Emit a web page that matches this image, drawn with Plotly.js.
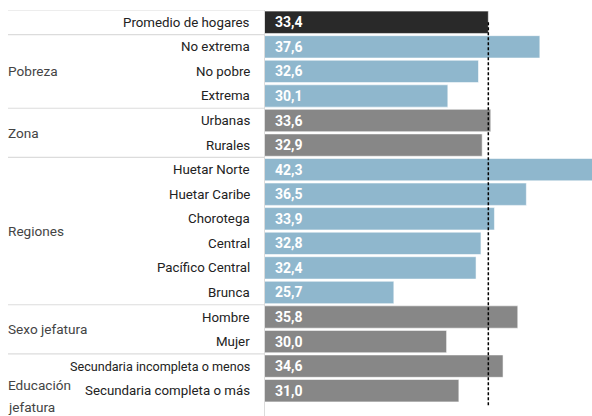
<!DOCTYPE html>
<html>
<head>
<meta charset="utf-8">
<script src="https://cdn.plot.ly/plotly-3.0.1.min.js"></script>
<style>html,body{margin:0;padding:0;background:#fff;}#chart{width:592px;height:416px;}</style>
</head>
<body>
<div id="chart"></div>
<script>
const categories = ['Promedio de hogares','No extrema','No pobre','Extrema','Urbanas','Rurales','Huetar Norte','Huetar Caribe','Chorotega','Central','Pacífico Central','Brunca','Hombre','Mujer','Secundaria incompleta o menos','Secundaria completa o más'];
const values = [33.4,37.6,32.6,30.1,33.6,32.9,42.3,36.5,33.9,32.8,32.4,25.7,35.8,30.0,34.6,31.0];
const groups = ['Promedio','Pobreza','Pobreza','Pobreza','Zona','Zona','Regiones','Regiones','Regiones','Regiones','Regiones','Regiones','Sexo jefatura','Sexo jefatura','Educación jefatura','Educación jefatura'];
const groupLabels = ['Pobreza','Zona','Regiones','Sexo jefatura','Educación jefatura'];
const average = 33.4;

const groupColor = {'Promedio':'#292929','Pobreza':'#8fb7cd','Regiones':'#8fb7cd','Zona':'#878787','Sexo jefatura':'#878787','Educación jefatura':'#878787'};
const xMin = 15.2, xMax = 41.85;
const idx = categories.map((c,i)=>i);
const fmt = v => v.toFixed(1).replace('.', ',');

const W = 592, L = 265;
const paperX = px => (px - L) / (W - L);

const trace = {
  type:'bar', orientation:'h',
  y: idx, x: values,
  marker:{color: groups.map(g=>groupColor[g]), line:{color:'rgba(255,255,255,0.55)', width:1}},
  hoverinfo:'none'
};

const annotations = [];
categories.forEach((c,i)=>{
  const small = c.length > 25;
  annotations.push({xref:'paper', yref:'y', x:paperX(252), y:i, xanchor:'right', yanchor:'middle',
    text:c, showarrow:false, font:{family:'Roboto', size: small ? 12.6 : 13.3, color:'#222'}});
  annotations.push({xref:'x', yref:'y', x:xMin, xshift:8, y:i, xanchor:'left', yanchor:'middle',
    text:'<b>'+fmt(values[i])+'</b>', showarrow:false, font:{family:'Roboto', size:14, color:'#fff'}});
});

// group labels & separators
const shapes = [];
let start = 0;
const gFont = {family:'Roboto', size:13.6, color:'#444'};
for (let i=1;i<=categories.length;i++){
  if (i===categories.length || groups[i]!==groups[start]){
    shapes.push({type:'line', xref:'paper', yref:'y', x0:paperX(8), x1:0, y0:start-0.5, y1:start-0.5, line:{color:'#dcdcdc', width:1.2}});
    const g = groups[start];
    if (groupLabels.includes(g)){
      const mid = (start + i - 1)/2;
      if (g === 'Educación jefatura'){
        annotations.push({xref:'paper', yref:'y', x:paperX(6), y:mid+0.27, xanchor:'left', yanchor:'middle', text:'Educación', showarrow:false, font:gFont});
        annotations.push({xref:'paper', yref:'y', x:paperX(6), y:mid+1.17, xanchor:'left', yanchor:'middle', text:'jefatura', showarrow:false, font:gFont});
      } else {
        annotations.push({xref:'paper', yref:'y', x:paperX(6), y:mid, xanchor:'left', yanchor:'middle', text:g, showarrow:false, font:gFont});
      }
    }
    start = i;
  }
}
shapes.push({type:'line', xref:'x', yref:'y', x0:average, x1:average, y0:0, y1:15.66, line:{color:'#000', width:1.5, dash:'3px,2px'}});

const layout = {
  width:592, height:416,
  margin:{l:265, r:0, t:10, b:0, pad:0},
  paper_bgcolor:'#fff', plot_bgcolor:'#fff',
  showlegend:false, bargap:0.09,
  separators:',.',
  xaxis:{range:[xMin,xMax], visible:false, fixedrange:true},
  yaxis:{range:[16.03,-0.5], showticklabels:false, showgrid:false, zeroline:false, ticks:'', showline:true, linecolor:'#dcdcdc', linewidth:1, fixedrange:true},
  annotations, shapes
};
Plotly.newPlot('chart', [trace], layout, {displayModeBar:false, staticPlot:true});
</script>
</body>
</html>
